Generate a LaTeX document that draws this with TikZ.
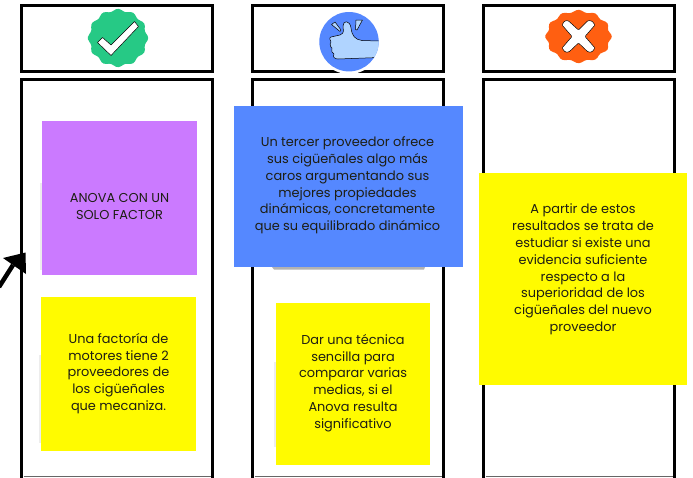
\documentclass[tikz,border=0pt]{standalone}
\usepackage{fontspec}
\setmainfont{Poppins}
\usetikzlibrary{calc}
\definecolor{notepurple}{HTML}{CB7AFF}
\definecolor{noteyellow}{HTML}{FFFB00}
\definecolor{noteblue}{HTML}{5588FF}
\definecolor{sealgreen}{HTML}{26C985}
\definecolor{sealorange}{HTML}{FF5F11}
\definecolor{handblue}{HTML}{B0D4FF}
\definecolor{inkdark}{HTML}{1E1E14}
\tikzset{
  x=1pt,y=-1pt,
  framebox/.style={draw=black,line width=3.4pt,fill=white},
  note/.style={inner sep=0pt,outer sep=0pt,text=inkdark,align=center,
    font=\fontsize{12.9}{16.8}\selectfont},
  softshadow/.style={fill=black!7},
  iconline/.style={draw=black,line width=.5pt,line join=round},
}
\begin{document}
\begin{tikzpicture}
\useasboundingbox (0,0) rectangle (693,477);
\fill[white] (0,0) rectangle (693,477);
% frames
\draw[framebox] (21.7,5.7) rectangle (212.3,71.3);
\draw[framebox] (252.7,5.7) rectangle (443.3,71.3);
\draw[framebox] (483.7,5.7) rectangle (674.3,71.3);
\begin{scope}
\clip (0,0) rectangle (693,477);
\draw[framebox] (21.7,79.7) rectangle (212.3,480);
\draw[framebox] (252.7,79.7) rectangle (443.3,480);
\draw[framebox] (483.7,79.7) rectangle (674.3,480);
\end{scope}
\draw[black!60,line width=.7pt] (23.5,476.6) -- (210.5,476.6);
\draw[black!60,line width=.7pt] (254.5,476.6) -- (441.5,476.6);
\draw[black!60,line width=.7pt] (485.5,476.6) -- (672.5,476.6);
% green seal
\fill[sealgreen] plot[smooth cycle,samples=73,domain=0:355] ({118+(29+1.2*cos(12*\x))*cos(\x)},{38+(28+1.2*cos(12*\x))*sin(\x)});
\draw[iconline,fill=white] (97.5,42.5) -- (102.5,37.5) -- (111,45) -- (134.5,21.5) -- (138.5,26.5) -- (111,55.5) -- cycle;
% blue circle with hand
\fill[white] (349,42) circle (32);
\fill[noteblue] (349,41.7) circle (29.7);
\begin{scope}
\clip (349,41.7) circle (29.7);
\fill[handblue] (379,41) -- (362,40.5) .. controls (355,39.5) and (352,36) .. (351,28)
  .. controls (350,20) and (343,20) .. (343,26)
  .. controls (343,30) and (345,33) .. (340,35) -- (331,37)
  .. controls (329,37) and (330,41) .. (331,42)
  .. controls (329,44) and (331,48) .. (332,48)
  .. controls (331,51) and (332,53) .. (334,54)
  .. controls (332,57) and (335,59) .. (338,59) -- (379,57.5) -- cycle;
\draw[iconline] (379,41) -- (362,40.5) .. controls (355,39.5) and (352,36) .. (351,28)
  .. controls (350,20) and (343,20) .. (343,26)
  .. controls (343,30) and (345,33) .. (340,35) -- (331,37)
  .. controls (329,37) and (330,41) .. (331,42)
  .. controls (329,44) and (331,48) .. (332,48)
  .. controls (331,51) and (332,53) .. (334,54)
  .. controls (332,57) and (335,59) .. (338,59) -- (379,57.5);
\end{scope}
\draw[iconline,fill=handblue] (331.5,24.5) -- (335,22) -- (341,30) -- (340,31.5) -- cycle;
\draw[iconline,fill=handblue] (356,20) -- (362.5,20) -- (357,30) -- (355.5,29.5) -- cycle;
% orange seal
\fill[sealorange] plot[smooth cycle,samples=73,domain=0:355] ({578.5+(32+1.3*cos(12*\x))*cos(\x)},{36.5+(25.5+1.2*cos(12*\x))*sin(\x)});
\draw[iconline,fill=white,rounded corners=1pt] (564.5,21) -- (568,20.5) -- (578.5,30) -- (588,20.5) -- (592,21) -- (595,25) -- (585,36.5) -- (595,48) -- (592,52) -- (588,52) -- (578.5,43) -- (569,52) -- (565,52) -- (562,48) -- (572,36.5) -- (562,25) -- cycle;
% soft shadows
\fill[softshadow] (39.5,183) rectangle (42,270);
\fill[softshadow] (39,355) rectangle (41,443);
\fill[softshadow] (274,362) rectangle (276,447);
\fill[black!30] (272,267) -- (425,267) -- (424,269.5) -- (274,269.5) -- cycle;
% arrow
\coordinate (arrowstart) at (-1,287);
\coordinate (arrowneck) at (13,265);
\coordinate (arrowtip) at (25.5,252.5);
\draw[black,line width=4.5pt] (arrowstart) -- (arrowneck);
\fill[black] (3,258) -- (arrowtip) -- (26,274) -- (arrowneck) -- cycle;
% notes
\node[note,fill=notepurple,minimum width=155pt,minimum height=154pt] (purple) at (119.5,198) {};
\node[note,fill=noteyellow,minimum width=155pt,minimum height=154pt] (yellowa) at (118.5,374) {};
\node[note,fill=noteblue,minimum width=229pt,minimum height=161pt] (bluenote) at (348.5,186.5) {};
\node[note,fill=noteyellow,minimum width=154pt,minimum height=162pt] (yellowb) at (353,384) {};
\node[note,fill=noteyellow,minimum width=208pt,minimum height=212pt] (yellowc) at (583,279) {};
\node[note] (purpletext) at (119.5,206.5) {ANOVA CON UN\\SOLO FACTOR};
\node[note] (yellowatext) at (118.5,373.5) {Una factoría de\\motores tiene 2\\proveedores de\\los cigüeñales\\que mecaniza.};
\node[note] (bluetext) at (347.5,185.5) {Un tercer proveedor ofrece\\sus cigüeñales algo más\\caros argumentando sus\\mejores propiedades\\dinámicas, concretamente\\que su equilibrado dinámico};
\node[note] (yellowbtext) at (353,383) {Dar una técnica\\sencilla para\\comparar varias\\medias, si el\\Anova resulta\\significativo};
\node[note] (yellowctext) at (583,269.5) {A partir de estos\\resultados se trata de\\estudiar si existe una\\evidencia suficiente\\respecto a la\\superioridad de los\\cigüeñales del nuevo\\proveedor};
\end{tikzpicture}
\end{document}
